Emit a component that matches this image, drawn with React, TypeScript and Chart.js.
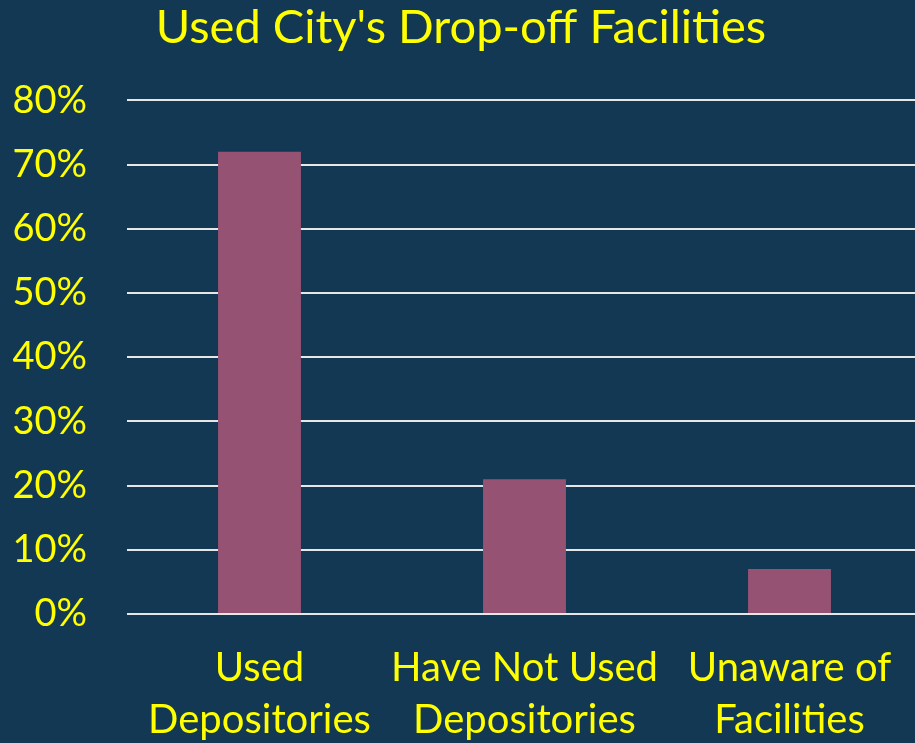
import React, { useEffect, useRef } from "react";
import { Chart, registerables } from "chart.js";

Chart.register(...registerables);

const titleText = "Used City's Drop-off Facilities";
const categories: string[][] = [
  ["Used", "Depositories"],
  ["Have Not Used", "Depositories"],
  ["Unaware of", "Facilities"],
];
const values: number[] = [72, 21, 7];
const yTicks: number[] = [0, 10, 20, 30, 40, 50, 60, 70, 80];

const BG = "#123854";
const YELLOW = "#FFFF00";
const BAR = "#955273";
const FONT = "Lato, 'Open Sans', sans-serif";

export default function App() {
  const ref = useRef<HTMLCanvasElement>(null);

  useEffect(() => {
    document.body.style.margin = "0";
    const ctx = ref.current!;
    const chart = new Chart(ctx, {
      type: "bar",
      data: {
        labels: categories,
        datasets: [
          {
            data: values,
            backgroundColor: BAR,
            borderWidth: 0,
            barPercentage: 0.313,
            categoryPercentage: 1,
          },
        ],
      },
      options: {
        responsive: false,
        animation: false,
        layout: { padding: { left: 0, right: 0, top: 0, bottom: 0 } },
        plugins: {
          legend: { display: false },
          tooltip: { enabled: false },
          title: {
            display: true,
            text: titleText,
            color: YELLOW,
            font: { family: FONT, size: 47, weight: "normal", lineHeight: 1.2 },
            padding: { top: 0, bottom: 44 },
          },
        },
        scales: {
          y: {
            min: yTicks[0],
            max: yTicks[yTicks.length - 1],
            afterBuildTicks: (axis: any) => {
              axis.ticks = yTicks.map((v) => ({ value: v }));
            },
            afterFit: (axis: any) => {
              axis.width = 127;
            },
            ticks: {
              color: YELLOW,
              font: { family: FONT, size: 38 },
              padding: 40,
              callback: (v: any) => v + "%",
            },
            grid: { color: "#E6E6E6", lineWidth: 2, drawTicks: false },
            border: { display: false },
          },
          x: {
            afterFit: (axis: any) => {
              axis.height = 129;
            },
            ticks: {
              color: YELLOW,
              font: { family: FONT, size: 40, lineHeight: 1.3 },
              padding: 28,
              maxRotation: 0,
              autoSkip: false,
            },
            grid: { display: false, drawTicks: false },
            border: { display: false },
          },
        },
      },
    });
    return () => chart.destroy();
  }, []);

  return (
    <div
      style={{
        position: "fixed",
        left: 0,
        top: 0,
        width: 915,
        height: 743,
        overflow: "hidden",
        background: BG,
      }}
    >
      <canvas ref={ref} width={922} height={743} style={{ display: "block" }} />
    </div>
  );
}
